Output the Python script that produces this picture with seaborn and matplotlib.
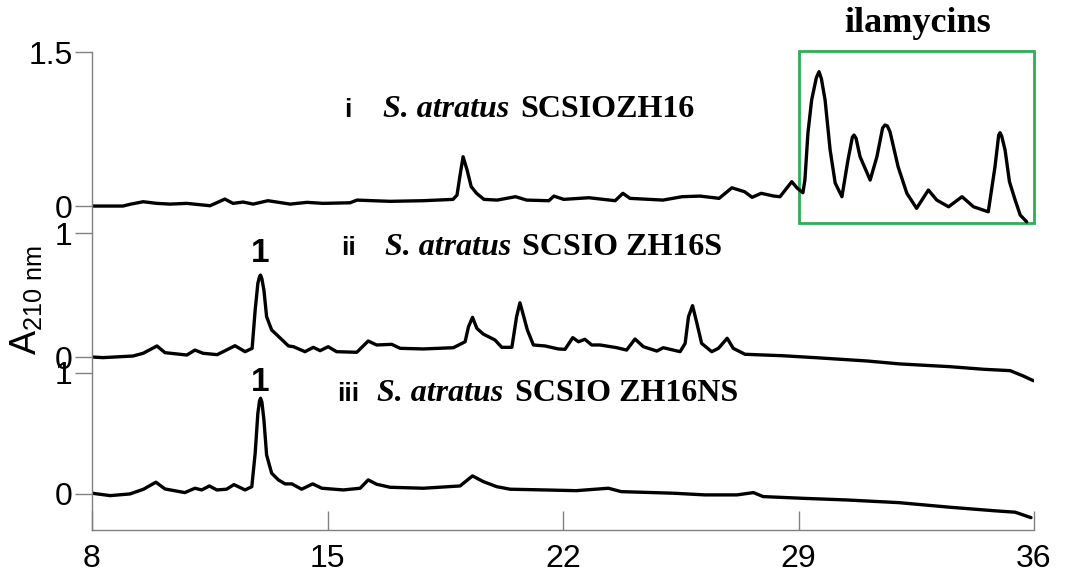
import matplotlib
matplotlib.use("Agg")
import matplotlib.pyplot as plt
import seaborn as sns
import pandas as pd
from matplotlib.patches import Rectangle

sns.set_style("ticks")
plt.rcParams['font.family'] = ['Liberation Sans', 'DejaVu Sans']
plt.rcParams['mathtext.fontset'] = 'custom'
plt.rcParams['mathtext.rm'] = 'Liberation Sans'
plt.rcParams['text.color'] = 'black'
plt.rcParams['xtick.labelcolor'] = 'black'
plt.rcParams['ytick.labelcolor'] = 'black'

# retention time (min), absorbance at 210 nm
trace_i = [
    (8.00, 0.00), (8.92, 0.00), (9.13, 0.017), (9.52, 0.042), (9.93, 0.026),
    (10.32, 0.019), (10.82, 0.026), (11.51, 0.003), (11.95, 0.068), (12.19, 0.026),
    (12.49, 0.039), (12.79, 0.019), (13.23, 0.052), (13.89, 0.019), (14.39, 0.036),
    (14.87, 0.026), (15.67, 0.032), (15.88, 0.058), (16.35, 0.052), (16.86, 0.046),
    (17.84, 0.052), (18.73, 0.065), (18.85, 0.107), (18.94, 0.30), (19.03, 0.48),
    (19.15, 0.35), (19.27, 0.19), (19.43, 0.124), (19.65, 0.065), (20.04, 0.058),
    (20.59, 0.091), (20.92, 0.058), (21.58, 0.052), (21.73, 0.097), (22.02, 0.065),
    (22.77, 0.081), (23.55, 0.052), (23.78, 0.124), (23.99, 0.075), (24.97, 0.058),
    (25.54, 0.091), (26.07, 0.097), (26.64, 0.075), (27.02, 0.178), (27.40, 0.139),
    (27.62, 0.085), (27.89, 0.124), (28.27, 0.097), (28.45, 0.091), (28.80, 0.237),
    (28.96, 0.175), (29.13, 0.130), (29.19, 0.253), (29.28, 0.711), (29.39, 1.032),
    (29.53, 1.25), (29.61, 1.308), (29.68, 1.24), (29.79, 1.032), (29.94, 0.545),
    (30.09, 0.224), (30.29, 0.091), (30.47, 0.448), (30.60, 0.67), (30.65, 0.691),
    (30.71, 0.66), (30.83, 0.480), (31.13, 0.253), (31.33, 0.480), (31.50, 0.76),
    (31.57, 0.789), (31.64, 0.78), (31.72, 0.723), (31.96, 0.383), (32.22, 0.124),
    (32.51, -0.022), (32.86, 0.156), (33.11, 0.058), (33.46, -0.007), (33.86, 0.091),
    (34.20, -0.007), (34.64, -0.056), (34.84, 0.383), (34.95, 0.69), (34.99, 0.714),
    (35.04, 0.68), (35.14, 0.545), (35.27, 0.237), (35.44, 0.058), (35.59, -0.088),
    (35.78, -0.153),
]

trace_ii = [
    (8.00, 0.0), (8.33, -0.005), (9.22, 0.008), (9.52, 0.03), (9.93, 0.089),
    (10.17, 0.035), (10.82, 0.016), (11.06, 0.056), (11.30, 0.03), (11.72, 0.019),
    (11.90, 0.043), (12.25, 0.091), (12.55, 0.043), (12.76, 0.07), (12.85, 0.379),
    (12.93, 0.594), (12.98, 0.65), (13.01, 0.661), (13.05, 0.63), (13.11, 0.54),
    (13.19, 0.325), (13.34, 0.218), (13.57, 0.159), (13.84, 0.089), (13.99, 0.083),
    (14.33, 0.043), (14.58, 0.078), (14.78, 0.051), (15.02, 0.083), (15.27, 0.043),
    (15.87, 0.038), (16.21, 0.129), (16.46, 0.097), (16.91, 0.102), (17.16, 0.07),
    (17.85, 0.065), (18.74, 0.075), (19.09, 0.123), (19.19, 0.244), (19.31, 0.32),
    (19.44, 0.231), (19.63, 0.185), (19.98, 0.137), (20.18, 0.078), (20.48, 0.078),
    (20.62, 0.325), (20.72, 0.438), (20.82, 0.339), (20.94, 0.218), (21.12, 0.097),
    (21.47, 0.089), (21.86, 0.065), (22.06, 0.062), (22.29, 0.156), (22.46, 0.123),
    (22.65, 0.143), (22.85, 0.097), (23.10, 0.097), (23.60, 0.075), (23.89, 0.056),
    (24.14, 0.145), (24.39, 0.083), (24.79, 0.048), (24.98, 0.075), (25.48, 0.043),
    (25.63, 0.11), (25.73, 0.325), (25.85, 0.414), (25.98, 0.272), (26.12, 0.11),
    (26.42, 0.043), (26.62, 0.07), (26.88, 0.151), (27.06, 0.07), (27.41, 0.022),
    (28.55, 0.01), (29.54, -0.006), (31.03, -0.032), (32.02, -0.056), (33.50, -0.078),
    (34.50, -0.099), (35.29, -0.11), (35.68, -0.153), (35.98, -0.191),
]

trace_iii = [
    (8.00, 0.006), (8.54, -0.014), (9.13, 0.0), (9.53, 0.039), (9.90, 0.097),
    (10.17, 0.041), (10.76, 0.011), (11.06, 0.047), (11.26, 0.033), (11.49, 0.066),
    (11.71, 0.033), (12.00, 0.039), (12.22, 0.077), (12.55, 0.033), (12.75, 0.06),
    (12.85, 0.336), (12.93, 0.667), (12.98, 0.77), (13.01, 0.791), (13.05, 0.76),
    (13.11, 0.612), (13.19, 0.322), (13.34, 0.171), (13.54, 0.116), (13.74, 0.083),
    (13.94, 0.083), (14.23, 0.039), (14.56, 0.083), (14.83, 0.047), (15.47, 0.033),
    (15.97, 0.047), (16.21, 0.116), (16.46, 0.08), (16.86, 0.055), (17.85, 0.047),
    (18.94, 0.066), (19.31, 0.149), (19.63, 0.102), (20.03, 0.06), (20.43, 0.039),
    (21.44, 0.033), (22.39, 0.027), (23.35, 0.047), (23.73, 0.019), (25.27, 0.006),
    (26.22, -0.008), (27.17, -0.008), (27.66, 0.011), (27.95, -0.022), (29.11, -0.036),
    (30.44, -0.05), (31.98, -0.072), (33.50, -0.11), (34.86, -0.14), (35.44, -0.151),
    (35.91, -0.196),
]

# stacking: (offset, scale) of each trace in the shared axis
stack = {"i": (2.380, 0.849), "ii": (1.132, 1.025), "iii": (0.0, 1.0)}
ytick_values = {"i": [0, 1.5], "ii": [0, 1], "iii": [0, 1]}
xticks = [8, 15, 22, 29, 36]
box_t = (29.0, 36.0)      # ilamycins window (min)
box_a = (-0.163, 1.51)    # in trace i absorbance units

fig = plt.figure(figsize=(10.66, 5.74), dpi=100)
ax = fig.add_axes([0.0863, 0.0767, 0.8837, 0.8328])

for key, pts in [("i", trace_i), ("ii", trace_ii), ("iii", trace_iii)]:
    off, sc = stack[key]
    df = pd.DataFrame(pts, columns=["time", "absorb"])
    df["y"] = off + sc * df["absorb"]
    sns.lineplot(data=df, x="time", y="y", ax=ax, color="black", lw=2.4,
                 estimator=None, sort=False, solid_joinstyle="round",
                 solid_capstyle="round")

ax.set_xlim(8, 36)
ax.set_ylim(-0.298, 3.654)
ax.set_xticks(xticks)
ax.set_xticklabels([str(v) for v in xticks])

yt, yl = [], []
for key in ["iii", "ii", "i"]:
    off, sc = stack[key]
    for v in ytick_values[key]:
        yt.append(off + sc * v)
        yl.append(f"{v:g}")
ax.set_yticks(yt)
ax.set_yticklabels(yl)
ax.set_xlabel("")
ax.set_ylabel("")

for s in ["top", "right"]:
    ax.spines[s].set_visible(False)
for s in ["left", "bottom"]:
    ax.spines[s].set_color("#808080")
    ax.spines[s].set_linewidth(1.0)
ax.tick_params(axis="y", direction="out", length=12, width=1, color="#808080",
               labelsize=23, pad=2)
ax.tick_params(axis="x", direction="in", length=14, width=1, color="#808080",
               labelsize=23, pad=10)

# green box around the ilamycin peaks
off, sc = stack["i"]
ax.add_patch(Rectangle((box_t[0], off + sc * box_a[0]), box_t[1] - box_t[0],
                       sc * (box_a[1] - box_a[0]), fill=False,
                       edgecolor="#2db052", lw=2, clip_on=False))
ax.text(32.54, 3.821, "ilamycins", family="Liberation Serif", weight="bold",
        fontsize=26, ha="center", va="baseline", clip_on=False)

# trace labels
labels = [
    ("i", 15.61, 16.65, 20.72, 3.116, "SCSIOZH16"),
    ("ii", 15.61, 16.71, 20.78, 1.975, "SCSIO ZH16S"),
    ("iii", 15.61, 16.47, 20.57, 0.769, "SCSIO ZH16NS"),
]
for roman, tx, tsp, tst, ty, strain in labels:
    ax.text(tx, ty, roman, weight="bold", fontsize=19, ha="center", va="baseline")
    ax.text(tsp, ty, "S. atratus", family="Liberation Serif", style="italic",
            weight="bold", fontsize=23, ha="left", va="baseline")
    ax.text(tst, ty, strain, family="Liberation Serif", weight="bold",
            fontsize=23, ha="left", va="baseline")

# compound 1 markers
ax.text(13.0, 1.917, "1", weight="bold", fontsize=24, ha="center", va="baseline")
ax.text(13.0, 0.851, "1", weight="bold", fontsize=24, ha="center", va="baseline")

fig.text(0.0244, 0.477, r"A$_{\mathrm{210\ nm}}$", rotation=90, fontsize=26,
         ha="center", va="center")

fig.savefig("out.png", dpi=100)
